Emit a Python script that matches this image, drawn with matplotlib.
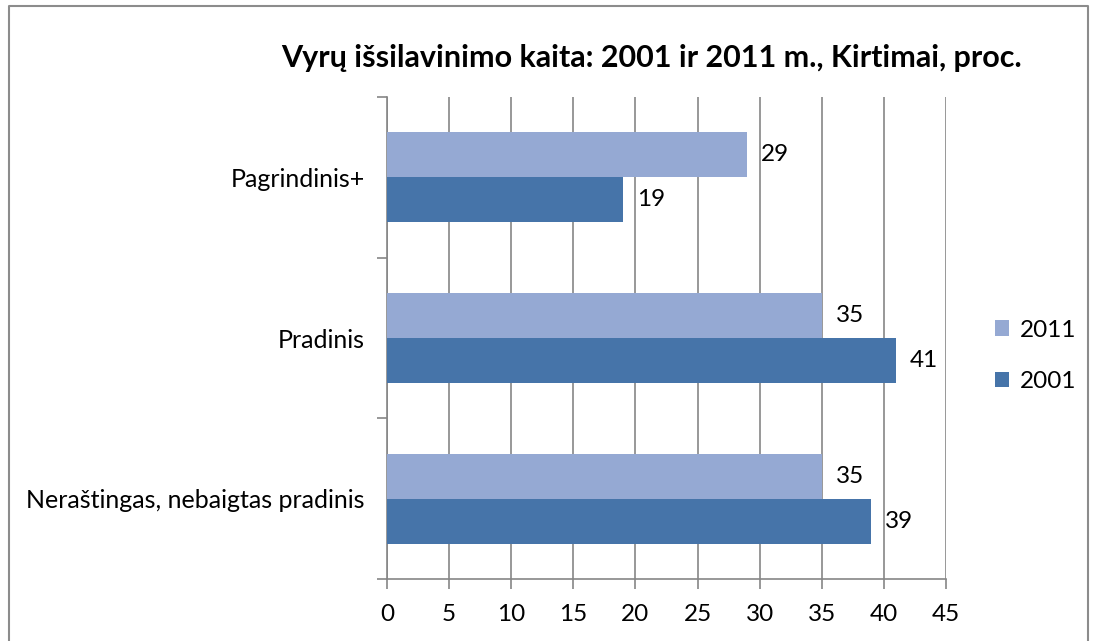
import matplotlib

matplotlib.use("Agg")
import matplotlib.pyplot as plt
import numpy as np
from matplotlib.lines import Line2D

categories = ["Neraštingas, nebaigtas pradinis", "Pradinis", "Pagrindinis+"]
series_names = ["2011", "2001"]
values_2011 = [35, 35, 29]
values_2001 = [39, 41, 19]
x_ticks = [0, 5, 10, 15, 20, 25, 30, 35, 40, 45]
title = "Vyrų išsilavinimo kaita: 2001 ir 2011 m., Kirtimai, proc."

color_2011 = "#95A9D3"
color_2001 = "#4674A9"
grid_color = "#868686"

plt.rcParams["font.family"] = ["Lato", "DejaVu Sans"]

fig = plt.figure(figsize=(10.95, 6.41), dpi=100)
# outer frame (bottom edge is cut off in the original)
x0, x1, ytop = 8.5 / 1095, 1087.5 / 1095, 1 - 5.5 / 641
fig.lines.append(Line2D([x0, x0, x1, x1], [0, ytop, ytop, 0], transform=fig.transFigure,
                        color="#8c8c8c", linewidth=1.5))
ax = fig.add_axes([387 / 1095, 1 - 579 / 641, (946 - 387) / 1095, (579 - 97) / 641])

y = np.arange(len(categories))
h = 0.28
b1 = ax.barh(y + h / 2, values_2011, height=h, color=color_2011, label=series_names[0], zorder=3)
b2 = ax.barh(y - h / 2, values_2001, height=h, color=color_2001, label=series_names[1], zorder=3)
for bars in (b1, b2):
    for rect in bars:
        w = rect.get_width()
        ax.text(w + 1.1, rect.get_y() + rect.get_height() / 2, f"{w:g}", va="center", ha="left",
                fontsize=17.5, color="#000000")

ax.set_xlim(0, 45)
ax.set_ylim(-0.5, len(categories) - 0.5)
ax.set_xticks(x_ticks)
ax.set_xticklabels([str(t) for t in x_ticks], fontsize=17.5)
ax.set_yticks(y)
ax.set_yticklabels(categories, fontsize=18)
ax.tick_params(axis="y", length=0, pad=16)
ax.set_yticks(np.arange(-0.5, len(categories), 1), minor=True)
ax.tick_params(axis="y", which="minor", length=7, color=grid_color, width=1.2)
ax.tick_params(axis="x", length=7, color=grid_color, width=1.2, pad=11)
ax.grid(axis="x", color=grid_color, linewidth=1.2, zorder=0)
for side in ("top", "right"):
    ax.spines[side].set_visible(False)
for side in ("left", "bottom"):
    ax.spines[side].set_color(grid_color)
    ax.spines[side].set_linewidth(1.2)

fig.text(652 / 1095, 1 - 58 / 641, title, ha="center", va="center", fontsize=22, fontweight="bold")

ax.legend(loc="center left", bbox_to_anchor=(1.07, 0.463), frameon=False, fontsize=17.5,
          handlelength=0.6, handleheight=0.6, handletextpad=0.45, labelspacing=1.25,
          borderaxespad=0)

fig.savefig("out.png", dpi=100)
